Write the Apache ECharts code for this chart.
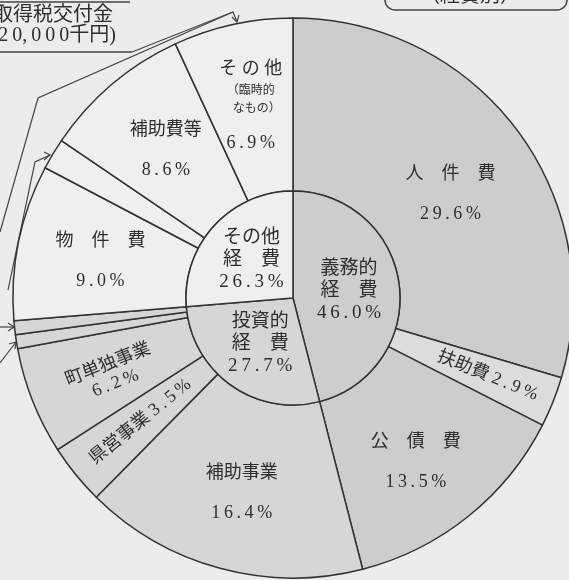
<!DOCTYPE html>
<html>
<head>
<meta charset="utf-8">
<script src="https://cdn.jsdelivr.net/npm/echarts@6/dist/echarts.min.js"></script>
<style>
html, body { margin: 0; padding: 0; background: #ececec; }
#chart { width: 569px; height: 580px; }
</style>
</head>
<body>
<div id="chart"></div>
<script>
// outer ring: items, clockwise from 12 o'clock
var outerNames = ['人件費', '扶助費', '公債費', '補助事業', '県営事業', '町単独事業', '投資的A', '投資的B', '物件費', 'その他C', '補助費等', 'その他'];
var outerValues = [29.6, 2.9, 13.5, 16.4, 3.5, 6.2, 0.8, 0.8, 9.0, 1.8, 8.6, 6.9];
var outerGroups = ['義務的', '義務的', '義務的', '投資的', '投資的', '投資的', '投資的', '投資的', 'その他', 'その他', 'その他', 'その他'];
var outerShown = ['人　件　費', '扶助費', '公　債　費', '補助事業', '県営事業', '町単独事業', '', '', '物　件　費', '', '補助費等', 'そ の 他'];

// inner ring: totals
var innerNames = ['義務的経費', '投資的経費', 'その他経費'];
var innerValues = [46.0, 27.7, 26.3];
var innerShown = ['義務的\n経　費', '投資的\n経　費', 'その他\n経　費'];

var FONT = '"Liberation Serif", "Noto Sans CJK JP", serif';
var INK = '#2e2e2e';

function pct(v) {
    return (v.toFixed(1) + '%').split('').join('\u2009');
}

var groupColor = { '義務的': '#cdcdcd', '投資的': '#d6d6d6', 'その他': '#efefef' };

// how label text is laid out per outer item
var outerSep = ['\n\n', ' ', '\n\n', '\n\n', ' ', '\n', '', '', '\n\n', '', '\n\n', ''];
var outerRotate = [0, 'radial', 0, 0, 'radial', 'radial', 0, 0, 0, 0, 0, 0];
var outerPad = [[28, 0, 0, 0], [0, 0, 0, 26], [22, 0, 0, 0], [12, 0, 0, 0], 0, [8, 0, 0, 0], 0, 0, [6, 0, 0, 0], 0, [4, 0, 0, 0], 0];

var outerData = [];
for (var i = 0; i < outerNames.length; i++) {
    var item = {
        name: outerNames[i],
        value: outerValues[i],
        itemStyle: { color: groupColor[outerGroups[i]] },
        label: { rotate: outerRotate[i], padding: outerPad[i] }
    };
    if (outerNames[i] === '扶助費') {
        item.itemStyle.color = '#dcdcdc';
    }
    outerData.push(item);
}

var innerData = [];
for (var j = 0; j < innerNames.length; j++) {
    innerData.push({
        name: innerNames[j],
        value: innerValues[j],
        itemStyle: { color: groupColor[outerGroups[[0, 3, 8][j]]] }
    });
}

var chart = echarts.init(document.getElementById('chart'));

var option = {
    backgroundColor: '#ececec',
    animation: false,
    series: [
        {
            type: 'pie',
            center: [293, 298],
            radius: [107, 280],
            startAngle: 90,
            clockwise: true,
            silent: true,
            itemStyle: { borderColor: '#333', borderWidth: 1.5 },
            label: {
                show: true,
                position: 'inside',
                color: INK,
                fontFamily: FONT,
                fontSize: 18,
                lineHeight: 20,
                formatter: function (p) {
                    var i = p.dataIndex;
                    if (!outerShown[i]) return '';
                    if (p.name === 'その他') {
                        return '{a|' + outerShown[i] + '}\n{s|（臨時的}\n{s|　なもの）}\n{g|}\n{a|' + pct(p.value) + '}';
                    }
                    return outerShown[i] + outerSep[i] + pct(p.value);
                },
                rich: {
                    a: { fontFamily: FONT, fontSize: 18, lineHeight: 26, color: INK },
                    s: { fontFamily: FONT, fontSize: 12, lineHeight: 18, color: INK },
                    g: { fontSize: 8, lineHeight: 12 }
                }
            },
            labelLine: { show: false },
            data: outerData
        },
        {
            type: 'pie',
            center: [293, 298],
            radius: [0, 107],
            startAngle: 90,
            clockwise: true,
            silent: true,
            z: 3,
            itemStyle: { borderColor: '#333', borderWidth: 1.5 },
            label: {
                show: true,
                position: 'inside',
                color: INK,
                fontFamily: FONT,
                fontSize: 19,
                lineHeight: 22,
                formatter: function (p) {
                    return innerShown[p.dataIndex] + '\n' + pct(p.value);
                }
            },
            labelLine: { show: false },
            data: innerData
        }
    ],
    graphic: [
        // cut-off note box at top left
        { type: 'line', shape: { x1: 0, y1: 2, x2: 130, y2: 2 }, style: { stroke: '#444', lineWidth: 1.5 } },
        { type: 'text', x: 113, y: 6, style: { text: '取得税交付金', font: '20px ' + FONT, fill: INK, textAlign: 'right' } },
        { type: 'text', x: 116, y: 26, style: { text: '2\u20090,\u20090\u20090\u20090千円)', font: '20px ' + FONT, fill: INK, textAlign: 'right' } },
        { type: 'line', shape: { x1: 0, y1: 52, x2: 132, y2: 52 }, style: { stroke: '#444', lineWidth: 1.5 } },
        // cut-off title box at top right
        { type: 'rect', shape: { x: 385, y: -30, width: 182, height: 40, r: 10 }, style: { fill: 'none', stroke: '#444', lineWidth: 1.5 } },
        { type: 'text', x: 470, y: -13, style: { text: '（経費別）', font: '20px ' + FONT, fill: INK, textAlign: 'center' } },
        // leader lines
        { type: 'polyline', shape: { points: [[132, 52], [233, 12]] }, style: { stroke: '#444', lineWidth: 1.2, fill: 'none' } },
        { type: 'polyline', shape: { points: [[0, 232], [38, 98], [233, 12], [237, 22]] }, style: { stroke: '#444', lineWidth: 1.2, fill: 'none' } },
        { type: 'polyline', shape: { points: [[232, 17], [237, 22], [239, 15]] }, style: { stroke: '#444', lineWidth: 1.2, fill: 'none' } },
        { type: 'polyline', shape: { points: [[8, 290], [35, 162], [50, 155]] }, style: { stroke: '#444', lineWidth: 1.2, fill: 'none' } },
        { type: 'polyline', shape: { points: [[44, 152], [50, 155], [44, 160]] }, style: { stroke: '#444', lineWidth: 1.2, fill: 'none' } },
        { type: 'polyline', shape: { points: [[0, 327], [14, 327]] }, style: { stroke: '#444', lineWidth: 1.2, fill: 'none' } },
        { type: 'polyline', shape: { points: [[8, 323], [14, 327], [8, 331]] }, style: { stroke: '#444', lineWidth: 1.2, fill: 'none' } },
        { type: 'polyline', shape: { points: [[0, 363], [16, 342]] }, style: { stroke: '#444', lineWidth: 1.2, fill: 'none' } },
        { type: 'polyline', shape: { points: [[9, 344], [16, 342], [15, 349]] }, style: { stroke: '#444', lineWidth: 1.2, fill: 'none' } }
    ]
};
chart.setOption(option);
</script>
</body>
</html>
